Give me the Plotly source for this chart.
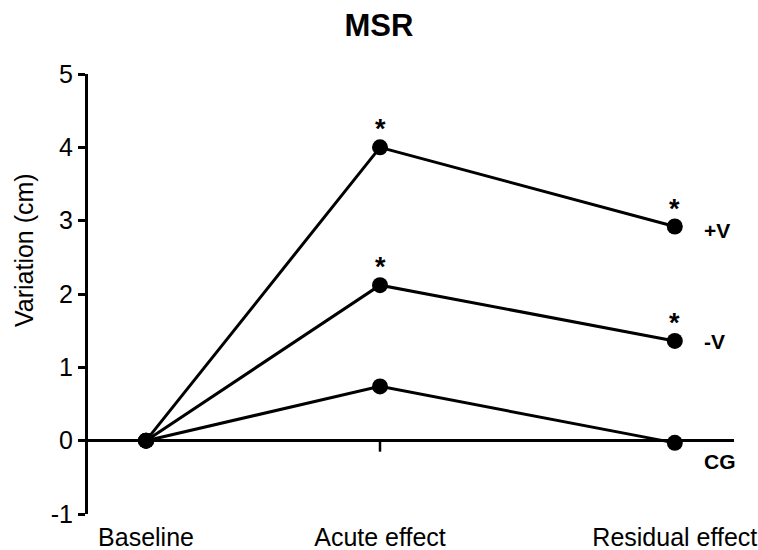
import plotly.graph_objects as go

categories = ["Baseline", "Acute effect", "Residual effect"]
x_positions = [0, 1, 2.26]
series_names = ["+V", "-V", "CG"]
plus_v = [0, 4.0, 2.92]
minus_v = [0, 2.12, 1.36]
cg = [0, 0.74, -0.03]
significant = {"+V": [False, True, True], "-V": [False, True, True], "CG": [False, False, False]}
y_ticks = [-1, 0, 1, 2, 3, 4, 5]
y_tick_text = ["-1", "0", "1", "2", "3", "4", "5"]

FONT = "Arial, 'Liberation Sans', sans-serif"
series = [("+V", plus_v, -4), ("-V", minus_v, -1), ("CG", cg, -19)]

fig = go.Figure()
for name, vals, _ in series:
    fig.add_trace(go.Scatter(
        x=x_positions, y=vals, mode="lines+markers", name=name,
        line=dict(color="black", width=3),
        marker=dict(color="black", size=16),
        showlegend=False, hoverinfo="skip"))

annotations = []
for name, vals, lab_shift in series:
    for xi, yi, sig in zip(x_positions, vals, significant[name]):
        if sig:
            annotations.append(dict(x=xi, y=yi, xref="x", yref="y", text="<b>*</b>",
                                    showarrow=False, yanchor="middle", yshift=18,
                                    font=dict(family=FONT, size=27, color="black")))
    annotations.append(dict(x=x_positions[-1], y=vals[-1], xref="x", yref="y",
                            text="<b>%s</b>" % name, showarrow=False,
                            xanchor="left", xshift=27, yshift=lab_shift,
                            font=dict(family=FONT, size=21, color="black")))

annotations.append(dict(x=-0.099, y=0.6, xref="paper", yref="paper",
                        text="Variation (cm)", textangle=-90, showarrow=False,
                        xanchor="center", yanchor="middle",
                        font=dict(family=FONT, size=25, color="black")))

fig.add_shape(type="line", xref="x", yref="y", x0=x_positions[1], x1=x_positions[1],
              y0=0, y1=-0.15, line=dict(color="black", width=2.5))

fig.update_layout(
    width=758, height=550,
    margin=dict(l=88, r=24, t=74, b=36, autoexpand=False),
    plot_bgcolor="white", paper_bgcolor="white",
    title=dict(text="<b>MSR</b>", x=0.5, xanchor="center", y=1 - 25 / 550,
               yanchor="middle", font=dict(family=FONT, size=31, color="black")),
    annotations=annotations,
    xaxis=dict(range=[-0.248, 2.513], tickvals=x_positions, ticktext=categories,
               showline=False, showgrid=False, zeroline=False, ticks="",
               ticklabelstandoff=6,
               tickfont=dict(family=FONT, size=25, color="black")),
    yaxis=dict(range=[-1, 5], tickvals=y_ticks, ticktext=y_tick_text,
               showline=True, linecolor="black",
               linewidth=3, ticks="outside", ticklen=7, tickwidth=2.5,
               tickcolor="black", showgrid=False, zeroline=True,
               zerolinecolor="black", zerolinewidth=3,
               tickfont=dict(family=FONT, size=25, color="black")),
)

fig.write_html("out.html", config={"displayModeBar": False},
               post_script="document.body.style.margin='0px';")
